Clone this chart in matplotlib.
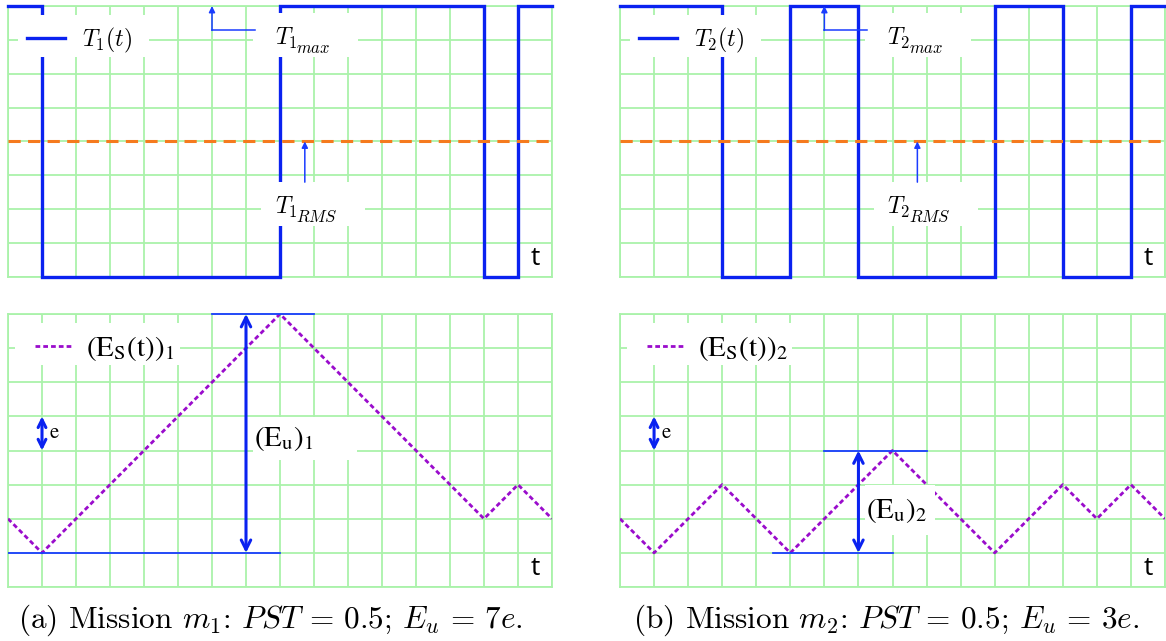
import matplotlib
matplotlib.use('Agg')
import matplotlib.pyplot as plt
from matplotlib.patches import Rectangle
from matplotlib.lines import Line2D

plt.rcParams['mathtext.fontset'] = 'cm'

# ---------------- data (grid units) ----------------
N_COLS, N_ROWS = 16, 8
T1_switch = [0, 1, 8, 14, 15, 16]
T1_level = [8, 0, 8, 0, 8, 8]
T2_switch = [0, 3, 5, 7, 11, 13, 15, 16]
T2_level = [8, 0, 8, 0, 8, 0, 8, 8]
T_RMS = 4

Es1_t = [0, 1, 8, 14, 15, 16]
Es1_v = [2, 1, 8, 2, 3, 2]
Es2_t = [0, 1, 3, 5, 8, 11, 13, 14, 15, 16]
Es2_v = [2, 1, 3, 1, 4, 1, 3, 2, 3, 2]

captions = [r'(a) Mission $m_1$: $PST\,=\,0.5$; $E_u\,=\,7e$.',
            r'(b) Mission $m_2$: $PST\,=\,0.5$; $E_u\,=\,3e$.']

BLUE = '#0a22f0'
ABLUE = '#1a3cff'
GREEN = '#aaf2aa'
ORANGE = '#f57a1e'
PURPLE = '#9a0ccc'

W, H = 1166, 641
fig = plt.figure(figsize=(W / 100, H / 100), dpi=100)


def px_axes(x0, y0, x1, y1):
    return fig.add_axes([x0 / W, 1 - y1 / H, (x1 - x0) / W, (y1 - y0) / H])


def style(ax):
    ax.set_xlim(0, N_COLS)
    ax.set_ylim(0, N_ROWS)
    ax.set_xticks(range(N_COLS + 1))
    ax.set_yticks(range(N_ROWS + 1))
    ax.tick_params(length=0, labelbottom=False, labelleft=False)
    ax.grid(True, color=GREEN, lw=1.3, zorder=0)
    ax.set_axisbelow(True)
    for s in ax.spines.values():
        s.set_color(GREEN)
        s.set_linewidth(1.3)


def white_box(ax, x0, y0, x1, y1):
    ax.add_patch(Rectangle((x0, y0), x1 - x0, y1 - y0, facecolor='white',
                           edgecolor='none', zorder=4))


def tlabel(ax):
    ax.text(15.5, 0.55, 't', fontsize=19, family='Open Sans', ha='center',
            va='center', zorder=6)


def tsub(ax, x, y, idx, sub):
    main = ax.text(x, y, rf'$T_{idx}$', fontsize=17, va='center', ha='left',
                   zorder=6)
    ax.annotate(rf'$\mathit{{{sub}}}$', xy=(1, 0.12), xycoords=main,
                xytext=(-1, 0), textcoords='offset points', fontsize=12,
                va='center', ha='left', zorder=6)


def top_panel(ax, sw, lv, idx):
    style(ax)
    ax.step(sw, lv, where='post', color=BLUE, lw=2.4, zorder=3,
            clip_on=False, solid_joinstyle='miter')
    ax.axhline(T_RMS, color=ORANGE, lw=2.2, dashes=(4, 2.4), zorder=3)
    # legend
    white_box(ax, 0.3, 6.5, 4.15, 7.72)
    leg = ax.legend([Line2D([], [], color=BLUE, lw=2.4)], [rf'$T_{idx}(t)$'],
                    loc='center left', bbox_to_anchor=(0.018, 0.8745),
                    frameon=False, fontsize=17, handlelength=1.6,
                    handletextpad=0.7, borderaxespad=0)
    leg.set_zorder(6)
    # T max annotation
    white_box(ax, 7.2, 6.49, 10.3, 7.8)
    ax.annotate('', xy=(6, 8), xytext=(6, 7.28),
                arrowprops=dict(arrowstyle='-|>', color=ABLUE, lw=1.1,
                                mutation_scale=9, shrinkA=0, shrinkB=0),
                zorder=5, annotation_clip=False)
    ax.plot([6, 7.25], [7.28, 7.28], color=ABLUE, lw=1.1, zorder=5)
    tsub(ax, 7.85, 7.05, idx, 'max')
    # T RMS annotation
    white_box(ax, 7.45, 1.5, 10.5, 2.8)
    ax.annotate('', xy=(8.73, T_RMS), xytext=(8.73, 2.8),
                arrowprops=dict(arrowstyle='-|>', color=ABLUE, lw=1.1,
                                mutation_scale=9, shrinkA=0, shrinkB=0),
                zorder=5)
    tsub(ax, 7.85, 2.05, idx, 'RMS')
    tlabel(ax)


def bottom_panel(ax, tt, vv, idx, low_from, box):
    style(ax)
    ax.plot(tt, vv, color=PURPLE, lw=2.0, dashes=(1.7, 1.1), zorder=3)
    vmax, vmin = max(vv), min(vv)
    # Eu reference lines
    ax.plot([low_from, tt[vv.index(vmax)]], [vmin, vmin], color=ABLUE,
            lw=1.3, zorder=3)
    ax.plot([6, 9], [vmax, vmax], color=ABLUE, lw=1.3, zorder=3,
            clip_on=False)
    ax.annotate('', xy=(7, vmax), xytext=(7, vmin),
                arrowprops=dict(arrowstyle='<->', color=BLUE, lw=2.2,
                                mutation_scale=17, shrinkA=0, shrinkB=0),
                zorder=5, annotation_clip=False)
    white_box(ax, *box)
    ax.text(box[0] + 0.05, (box[1] + box[3]) / 2,
            rf'$(\mathrm{{E_u}})_{idx}$', math_fontfamily='stix',
            fontsize=21, va='center', ha='left', zorder=6)
    # e unit arrow
    ax.annotate('', xy=(1, 5), xytext=(1, 4),
                arrowprops=dict(arrowstyle='<->', color=BLUE, lw=2.2,
                                mutation_scale=14, shrinkA=0, shrinkB=0),
                zorder=5)
    ax.text(1.2, 4.55, r'$\mathrm{e}$', fontsize=15, math_fontfamily='stix',
            va='center', ha='left', zorder=6)
    # legend
    white_box(ax, 0.22, 6.5, 5.05, 7.74)
    leg = ax.legend([Line2D([], [], color=PURPLE, lw=2.0, dashes=(1.7, 1.1))],
                    [rf'$(\mathrm{{E_S(t)}})_{idx}$'],
                    loc='center left', bbox_to_anchor=(0.028, 0.8745),
                    frameon=False, prop=dict(size=21, math_fontfamily='stix'),
                    handlelength=1.3, handletextpad=0.45, borderaxespad=0)
    leg.set_zorder(6)
    tlabel(ax)


ax1 = px_axes(8, 6, 552, 277)
top_panel(ax1, T1_switch, T1_level, 1)
ax2 = px_axes(620, 6, 1165, 277)
top_panel(ax2, T2_switch, T2_level, 2)

ax3 = px_axes(8, 314, 552, 587)
bottom_panel(ax3, Es1_t, Es1_v, 1, 0, (7.2, 3.72, 10.26, 4.99))
ax4 = px_axes(620, 314, 1165, 587)
bottom_panel(ax4, Es2_t, Es2_v, 2, 4.5, (7.18, 1.52, 9.24, 2.99))

for xc, cap in zip([270, 886], captions):
    fig.text(xc / W, 1 - 620 / H, cap, fontsize=22.5, family='cmr10',
             ha='center', va='center')

fig.savefig('out.png', dpi=100)
